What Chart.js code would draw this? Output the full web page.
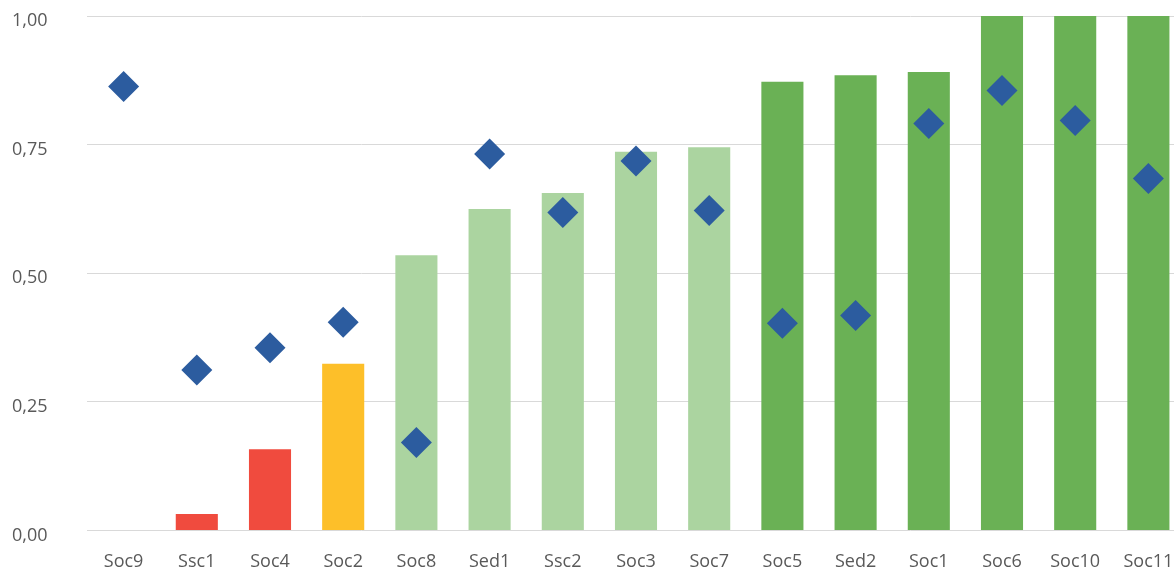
<!DOCTYPE html>
<html>
<head>
<meta charset="utf-8">
<script src="https://cdn.jsdelivr.net/npm/chart.js@4/dist/chart.umd.min.js"></script>
<style>
  html, body { margin: 0; padding: 0; background: #ffffff; overflow: hidden; width: 1174px; height: 572px; }
  #clip { position: absolute; left: 0; top: 0; width: 1174px; height: 572px; overflow: hidden; }
  #c { position: absolute; left: 0; top: 0; display: block; }
</style>
</head>
<body>
<div id="clip"><canvas id="c" width="1185" height="572" style="width:1185px;height:572px"></canvas></div>
<script>
const categories = ["Soc9","Ssc1","Soc4","Soc2","Soc8","Sed1","Ssc2","Soc3","Soc7","Soc5","Sed2","Soc1","Soc6","Soc10","Soc11"];
const barValues = [0, 0.032, 0.158, 0.324, 0.535, 0.625, 0.656, 0.736, 0.745, 0.872, 0.885, 0.891, 1.0, 1.0, 1.0];
const markerValues = [0.863, 0.312, 0.355, 0.405, 0.171, 0.732, 0.618, 0.718, 0.622, 0.403, 0.418, 0.791, 0.855, 0.797, 0.684];
const tickLabels = ["0,00", "0,25", "0,50", "0,75", "1,00"];

const RED = "#F04B3E", YELLOW = "#FDBF29", LIGHT = "#ABD4A0", GREEN = "#6AB155";
const barColors = [RED, RED, RED, YELLOW, LIGHT, LIGHT, LIGHT, LIGHT, LIGHT, GREEN, GREEN, GREEN, GREEN, GREEN, GREEN];

const FONT = { family: "'Open Sans', 'Noto Sans', sans-serif", size: 18 };

new Chart(document.getElementById('c'), {
  data: {
    labels: categories,
    datasets: [
      {
        type: 'line',
        data: markerValues,
        showLine: false,
        pointStyle: 'rectRot',
        pointRadius: 15.5,
        pointHoverRadius: 15.5,
        pointBackgroundColor: '#2C5C9F',
        pointBorderColor: '#2C5C9F',
        pointBorderWidth: 0,
        borderWidth: 0,
        clip: false,
        order: 0
      },
      {
        type: 'bar',
        data: barValues,
        backgroundColor: barColors,
        borderWidth: 0,
        barPercentage: 0.575,
        categoryPercentage: 1.0,
        order: 1
      }
    ]
  },
  options: {
    responsive: false,
    maintainAspectRatio: false,
    devicePixelRatio: 1,
    animation: false,
    layout: { autoPadding: false, padding: { top: 16, right: 0, bottom: 0, left: 12 } },
    plugins: { legend: { display: false }, tooltip: { enabled: false } },
    scales: {
      x: {
        type: 'category',
        offset: true,
        grid: { display: true, drawOnChartArea: false, color: 'rgba(0,0,0,0)', drawTicks: true, tickLength: 21 },
        border: { display: false },
        afterFit: (axis) => { axis.height = 41.5; },
        ticks: { color: '#595959', font: FONT, padding: 0, maxRotation: 0, autoSkip: false }
      },
      y: {
        min: 0,
        max: 1,
        grid: { color: '#D9D9D9', lineWidth: 1, drawTicks: false },
        border: { display: false },
        afterFit: (axis) => { axis.width = 75; },
        ticks: {
          stepSize: 0.25,
          color: '#595959',
          font: FONT,
          padding: 0,
          labelOffset: 5,
          crossAlign: 'far',
          callback: (v, i) => tickLabels[i]
        }
      }
    }
  }
});
</script>
</body>
</html>
